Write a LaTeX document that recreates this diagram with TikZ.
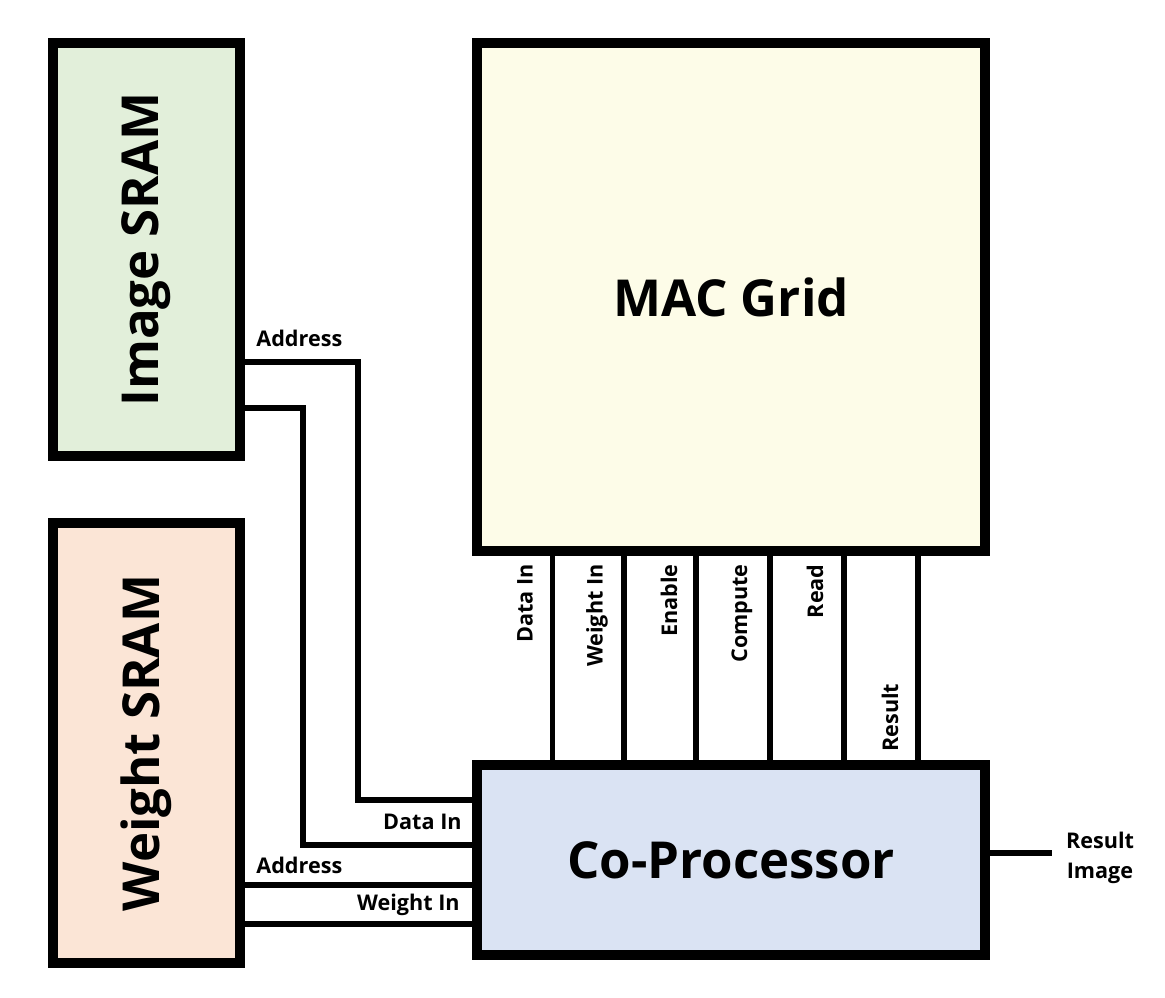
\documentclass[tikz,border=0pt]{standalone}
\usepackage{fontspec}
\setmainfont{Open Sans}
\usetikzlibrary{calc}

\definecolor{imgfill}{HTML}{E2EFDA}
\definecolor{wgtfill}{HTML}{FBE5D6}
\definecolor{macfill}{HTML}{FDFCE8}
\definecolor{copfill}{HTML}{DAE3F3}

\tikzset{
	block/.style={draw=black, line width=5.6pt, rectangle, inner sep=0pt,
		font=\fontsize{29}{32}\selectfont\bfseries},
	wire/.style={line width=3.4pt},
	sig/.style={inner sep=0pt, font=\fontsize{12.3}{17}\selectfont\bfseries}
}

\begin{document}
\begin{tikzpicture}[x=0.02cm, y=-0.02cm]
		\useasboundingbox (0,0) rectangle (1165,997);
		
		% memories and blocks
		\node[block, fill=imgfill, minimum width=3.74cm, minimum height=8.26cm] (img) at (146.5,249.5) {};
		\node[rotate=90, font=\fontsize{29}{32}\selectfont\bfseries] (imglbl) at (img.center) {Image SRAM};
		
		\node[block, fill=wgtfill, minimum width=3.74cm, minimum height=8.8cm] (wgt) at (146.5,743) {};
		\node[rotate=90, font=\fontsize{29}{32}\selectfont\bfseries] (wgtlbl) at (wgt.center) {Weight SRAM};
		
		\node[block, fill=macfill, minimum width=10.16cm, minimum height=10.16cm] (mac) at (731,297) {MAC Grid};
		
		\node[block, fill=copfill, minimum width=10.16cm, minimum height=3.8cm] (cop) at (731,860) {Co-Processor};
		
		% image sram wires
		\draw[wire] (img.east |- 0,362) -| (358,800) -- (cop.west |- 0,800);
		\node[sig, anchor=west] (ia) at (256,338) {Address};
		
		\draw[wire] (img.east |- 0,408) -| (303,845) -- (cop.west |- 0,845);
		\node[sig, anchor=east] (id) at (462,822) {Data In};
		
		% weight sram wires
		\draw[wire] (wgt.east |- 0,885) -- (cop.west |- 0,885);
		\node[sig, anchor=west] (wa) at (256,865) {Address};
		
		\draw[wire] (wgt.east |- 0,924) -- (cop.west |- 0,924);
		\node[sig, anchor=east] (wi) at (460,905) {Weight In};
		
		% mac grid bus
		\foreach \x in {552.5,624,696,770,844,918}
			\draw[wire] (mac.south -| \x,0) -- (cop.north -| \x,0);
		
		\node[sig, rotate=90, anchor=east] (md) at (525,564) {Data In};
		\node[sig, rotate=90, anchor=east] (mw) at (597,564) {Weight In};
		\node[sig, rotate=90, anchor=east] (me) at (669,564) {Enable};
		\node[sig, rotate=90, anchor=east] (mc) at (742,564) {Compute};
		\node[sig, rotate=90, anchor=east] (mr) at (815,564) {Read};
		\node[sig, rotate=90, anchor=west] (mres) at (890,752) {Result};
		
		% output
		\coordinate (out) at (1052,853);
		\draw[wire] (cop.east |- out) -- (out);
		\node[sig, align=center] (res) at (1100,858) {Result\\Image};
		
	\end{tikzpicture}
\end{document}
